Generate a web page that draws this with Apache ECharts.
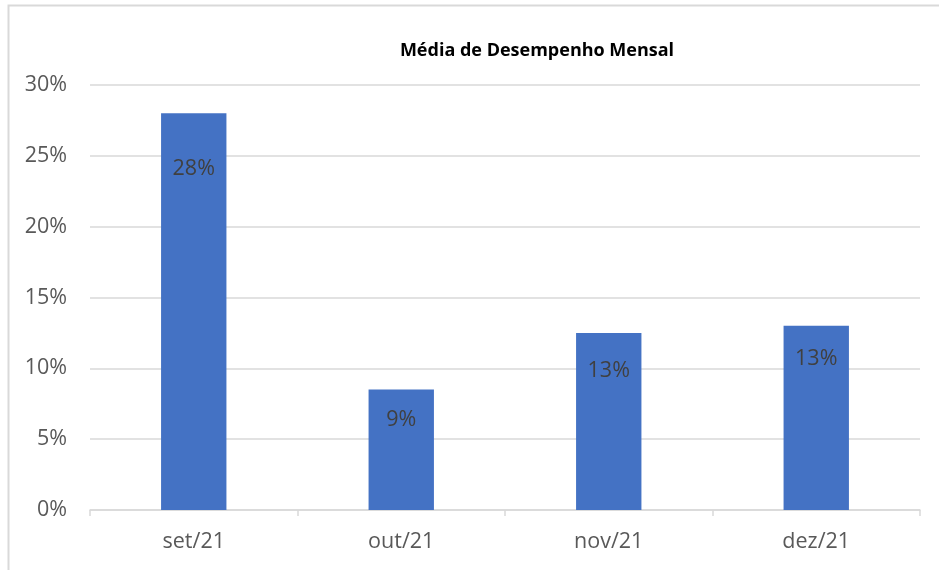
<!DOCTYPE html>
<html>
<head>
<meta charset="utf-8">
<script src="https://cdn.jsdelivr.net/npm/echarts@6/dist/echarts.min.js"></script>
<style>
  html, body { margin: 0; padding: 0; background: #fff; }
  #main { width: 939px; height: 570px; }
</style>
</head>
<body>
<div id="main"></div>
<script>
// 数据
var categories = ['set/21', 'out/21', 'nov/21', 'dez/21'];
var values = [28, 8.5, 12.5, 13];
var yTicks = [0, 5, 10, 15, 20, 25, 30];

var chart = echarts.init(document.getElementById('main'));
var font = '"Open Sans", Calibri, sans-serif';

// 标签离柱顶的距离（原图里每个不一样）
var labelDist = [45, 19, 27, 22];

var option = {
    animation: false,
    title: {
        text: 'Média de Desempenho Mensal',
        left: 532,
        top: 37,
        textAlign: 'center',
        textStyle: { fontSize: 18, fontWeight: 'bold', color: '#000', fontFamily: font }
    },
    graphic: [{
        type: 'rect',
        shape: { x: 8.5, y: 5.5, width: 960, height: 600 },
        style: { fill: 'none', stroke: '#d9d9d9', lineWidth: 2 }
    }],
    grid: { left: 90, right: 19, top: 85, bottom: 60 },
    xAxis: {
        type: 'category',
        data: categories,
        axisLine: { lineStyle: { color: '#d9d9d9', width: 1.5 } },
        axisTick: { show: true, length: 6, lineStyle: { color: '#d9d9d9', width: 1.5 } },
        axisLabel: { color: '#595959', fontSize: 21.5, margin: 21, fontFamily: font }
    },
    yAxis: {
        type: 'value',
        min: yTicks[0],
        max: yTicks[yTicks.length - 1],
        interval: 5,
        axisLine: { show: false },
        axisTick: { show: false },
        splitLine: { lineStyle: { color: '#d9d9d9', width: 1.5 } },
        axisLabel: {
            color: '#595959', fontSize: 21.5, margin: 23, fontFamily: font,
            formatter: function (v) { return v + '%'; }
        }
    },
    series: [{
        type: 'bar',
        data: values.map(function (v, i) {
            return { value: v, label: { distance: labelDist[i] } };
        }),
        barWidth: '31.5%',
        itemStyle: { color: '#4472C4' },
        label: {
            show: true,
            position: 'insideTop',
            color: '#404040',
            fontSize: 21.5,
            fontFamily: font,
            formatter: function (p) { return Math.round(p.value) + '%'; }
        }
    }]
};
chart.setOption(option);
</script>
</body>
</html>
